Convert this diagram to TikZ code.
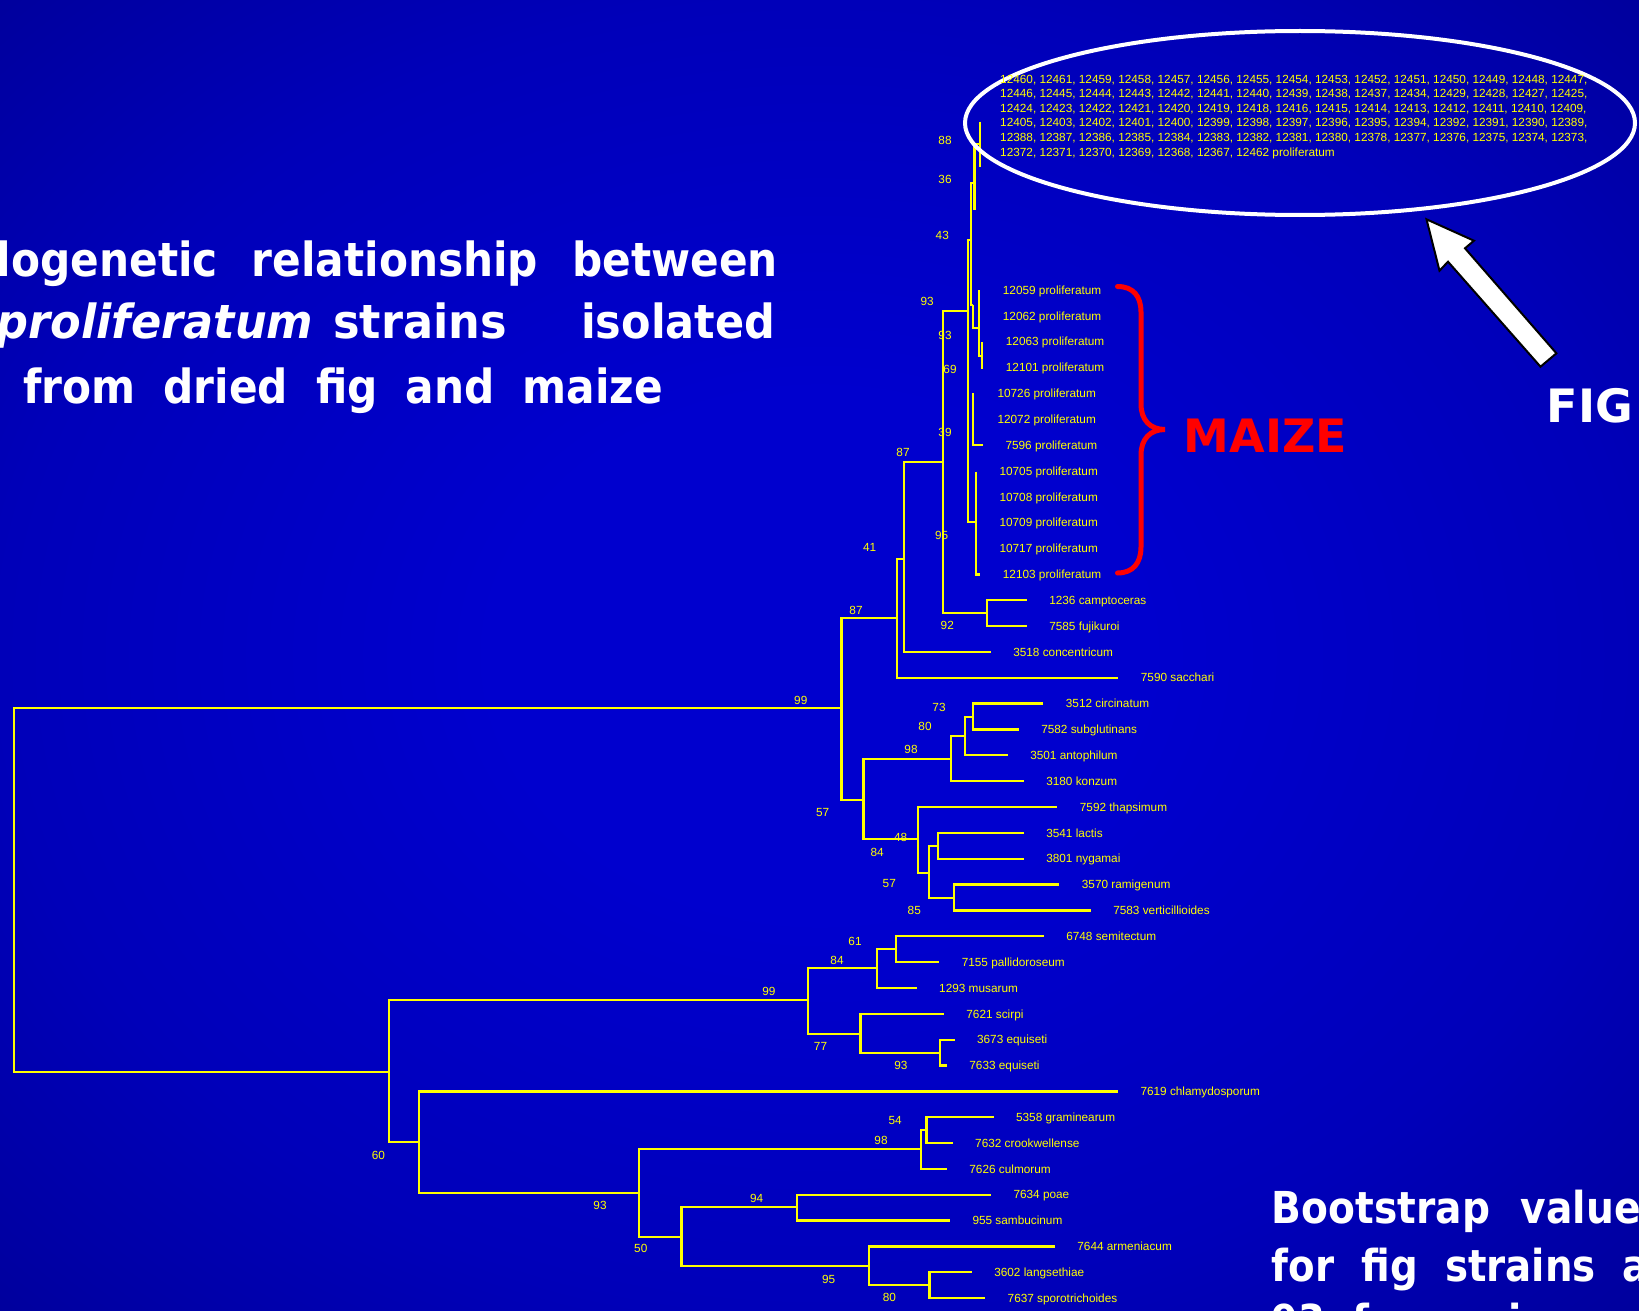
\documentclass[tikz,border=0pt]{standalone}
\usepackage{fontspec}
\setmainfont{Liberation Sans}
\newfontfamily\headfont{DejaVu Sans}
\definecolor{treeyellow}{RGB}{255,255,0}
\definecolor{bgin}{RGB}{0,0,206}
\definecolor{bgmid}{RGB}{0,0,185}
\definecolor{bgedge}{RGB}{0,0,118}
\definecolor{bgcorner}{RGB}{0,0,96}
\definecolor{maizered}{RGB}{255,0,0}
\pgfdeclareradialshading{bgshade}{\pgfpoint{0bp}{0bp}}{color(0bp)=(bgin); color(10bp)=(bgin); color(25bp)=(bgmid); color(50bp)=(bgedge); color(71bp)=(bgcorner)}
\tikzset{
  br/.style={draw=treeyellow, line width=2.3pt},
  leaf/.style={text=treeyellow, font=\fontsize{11.8}{14}\selectfont, anchor=base west, inner sep=0pt},
  boot/.style={text=treeyellow, font=\fontsize{11.8}{14}\selectfont, inner sep=0pt},
  head/.style={text=white, font=\headfont\bfseries\fontsize{47}{56}\selectfont, inner sep=0pt},
  note/.style={text=white, font=\headfont\bfseries\fontsize{44}{52}\selectfont, inner sep=0pt, anchor=base west},
}
\begin{document}
\begin{tikzpicture}[x=1pt,y=-1pt]
\useasboundingbox (0,0) rectangle (1639,1311);
\clip (0,0) rectangle (1639,1311);
\shade[shading=bgshade] (0,0) rectangle (1639,1311);

% ---------- title text ----------
\node[head, anchor=base east] (t1) at (778,276)
  {\scalebox{0.9}[1]{\spaceskip=0.8em Phylogenetic relationship between}};
\node[head, anchor=base east] (t2) at (775.5,338.3)
  {\scalebox{0.95}[1]{\itshape F. proliferatum}\hspace{20pt}\scalebox{0.95}[1]{strains}\hspace{74pt}\scalebox{0.915}[1]{isolated}};
\node[head, anchor=base west] (t3) at (23,403.3)
  {\scalebox{0.9}[1]{\spaceskip=0.66em from dried fig and maize}};

% ---------- leaves: index / tip x / label ----------
\foreach \i/\tx/\txt in {
  0/980.3/12059 proliferatum, 1/980.3/12062 proliferatum, 2/983.3/12063 proliferatum,
  3/983.3/12101 proliferatum, 4/974.9/10726 proliferatum, 5/974.9/12072 proliferatum,
  6/982.9/7596 proliferatum, 7/976.9/10705 proliferatum, 8/976.9/10708 proliferatum,
  9/976.9/10709 proliferatum, 10/976.9/10717 proliferatum, 11/980.3/12103 proliferatum,
  12/1026.7/1236 camptoceras, 13/1026.7/7585 fujikuroi, 14/990.7/3518 concentricum,
  15/1118.3/7590 sacchari, 16/1043.3/3512 circinatum, 17/1018.7/7582 subglutinans,
  18/1007.7/3501 antophilum, 19/1023.7/3180 konzum, 20/1057.3/7592 thapsimum,
  21/1023.7/3541 lactis, 22/1023.7/3801 nygamai, 23/1059.3/3570 ramigenum,
  24/1090.7/7583 verticillioides, 25/1043.7/6748 semitectum, 26/939.2/7155 pallidoroseum,
  27/916.6/1293 musarum, 28/943.8/7621 scirpi, 29/954.5/3673 equiseti,
  30/946.8/7633 equiseti, 31/1117.9/7619 chlamydosporum, 32/993.5/5358 graminearum,
  33/952.6/7632 crookwellense, 34/946.8/7626 culmorum, 35/990.9/7634 poae,
  36/949.9/955 sambucinum, 37/1054.8/7644 armeniacum, 38/971.7/3602 langsethiae,
  39/985.1/7637 sporotrichoides}
{
  \coordinate (l\i) at (\tx,{290+25.85*\i});
  \node[leaf] (n\i) at ([xshift=22.4pt,yshift=-4.2pt]l\i) {\txt};
}

% ---------- internal nodes ----------
\coordinate (R) at (13.8,890.3);
\coordinate (A) at (841.6,708.3);
\coordinate (C) at (896.7,617.7);
\coordinate (E) at (904.3,559.2);
\coordinate (F) at (942.7,462.3);
\coordinate (G) at (967.7,310.7);
\coordinate (H) at (987.3,613.1);
\coordinate (D) at (863.4,800);
\coordinate (I) at (951,759);
\coordinate (K) at (965.3,735.7);
\coordinate (L) at (973.3,716.7);
\coordinate (J) at (917.7,839.3);
\coordinate (M) at (929.3,872.7);
\coordinate (O) at (937.7,846);
\coordinate (N) at (954,897.7);
\coordinate (B) at (389.2,1072.3);
\coordinate (P) at (808.3,1000.3);
\coordinate (S) at (877.2,968.3);
\coordinate (U) at (896.3,949.3);
\coordinate (T) at (860.4,1033.7);
\coordinate (V) at (940.3,1052.7);
\coordinate (Q) at (419.2,1142.2);
\coordinate (W) at (638.7,1192.7);
\coordinate (X) at (921.2,1149.3);
\coordinate (Z) at (926.6,1130);
\coordinate (Y) at (681.5,1237);
\coordinate (AA) at (796.8,1207.3);
\coordinate (AB) at (868.8,1266);
\coordinate (AC) at (929.6,1285);

% proliferatum / fig cluster nodes
\coordinate (G2) at (970.7,240);
\coordinate (G3) at (974.5,182.7);
\coordinate (G3b) at (974.5,210);
\coordinate (G4) at (973.3,305);
\coordinate (FG) at (980,144.3);
\coordinate (FGt) at (980,121.7);
\coordinate (FGb) at (980,166.7);
\coordinate (PA) at (979.3,328.3);
\coordinate (PAt) at (979.3,290);
\coordinate (PAb) at (979.3,355.7);
\coordinate (PAc) at (981.7,342);
\coordinate (PAd) at (981.7,369);
\coordinate (PB) at (973.3,393.4);
\coordinate (PC) at (976,522.3);
\coordinate (PCt) at (976,471.7);

% ---------- branches ----------
\draw[br] (R) |- (A);  \draw[br] (R) |- (B);
\draw[br] (A) |- (C);  \draw[br] (A) |- (D);
\draw[br] (C) |- (E);  \draw[br] (C) |- (l15);
\draw[br] (E) |- (F);  \draw[br] (E) |- (l14);
\draw[br] (F) |- (G);  \draw[br] (F) |- (H);
\draw[br] (H) |- (l12); \draw[br] (H) |- (l13);
\draw[br] (D) |- (I);  \draw[br] (D) |- (J);
\draw[br] (I) |- (K);  \draw[br] (I) |- (l19);
\draw[br] (K) |- (L);  \draw[br] (K) |- (l18);
\draw[br] (L) |- (l16); \draw[br] (L) |- (l17);
\draw[br] (J) |- (l20); \draw[br] (J) |- (M);
\draw[br] (M) |- (O);  \draw[br] (M) |- (N);
\draw[br] (O) |- (l21); \draw[br] (O) |- (l22);
\draw[br] (N) |- (l23); \draw[br] (N) |- (l24);
\draw[br] (B) |- (P);  \draw[br] (B) |- (Q);
\draw[br] (P) |- (S);  \draw[br] (P) |- (T);
\draw[br] (S) |- (U);  \draw[br] (S) |- (l27);
\draw[br] (U) |- (l25); \draw[br] (U) |- (l26);
\draw[br] (T) |- (l28); \draw[br] (T) |- (V);
\draw[br] (V) |- (l29); \draw[br] (V) |- (l30);
\draw[br] (Q) |- (l31); \draw[br] (Q) |- (W);
\draw[br] (W) |- (X);  \draw[br] (W) |- (Y);
\draw[br] (X) |- (Z);  \draw[br] (X) |- (l34);
\draw[br] (Z) |- (l32); \draw[br] (Z) |- (l33);
\draw[br] (Y) |- (AA); \draw[br] (Y) |- (AB);
\draw[br] (AA) |- (l35); \draw[br] (AA) |- (l36);
\draw[br] (AB) |- (l37); \draw[br] (AB) |- (AC);
\draw[br] (AC) |- (l38); \draw[br] (AC) |- (l39);

% short branches inside the proliferatum / fig group
\draw[br] (G) |- (G2); \draw[br] (G) |- (PC);
\draw[br] (G2) |- (G3); \draw[br] (G2) |- (G4);
\draw[br] (G3) |- (FG); \draw[br] (G3) -- (G3b);
\draw[br] (FGt) -- (FGb);
\draw[br] (G4) |- (PA);
\draw[br] (PAt) -- (PAb) -| (PAc) -- (PAd);
\draw[br] (PB) |- (l6);
\draw[br] (PCt) |- (l11);

% ---------- bootstrap values ----------
\foreach \bx/\by/\bv in {
  945/140.7/88, 945/179/36, 942.3/235.7/43, 927.2/301/93, 945/335.3/93,
  950/369/69, 945/432.7/39, 941.7/535.7/95, 903/452.6/87, 869.7/547.7/41,
  856/610/87, 800.8/700/99, 947.3/625.7/92, 939/707.7/73, 925/726.7/80,
  911/749.7/98, 822.6/812.7/57, 900.7/837.7/48, 877.2/852.7/84, 889.3/883.3/57,
  914.3/910/85, 855/941/61, 837/960/84, 768.9/991.7/99, 820.5/1046/77,
  900.9/1065/93, 378.4/1155/60, 895.2/1120.7/54, 881/1140.7/98, 600/1205/93,
  756.6/1198.7/94, 640.8/1248/50, 828.6/1279/95, 889.4/1297/80}
{
  \node[boot] at (\bx,\by) {\bv};
}

% ---------- fig strains ----------
\draw[white, line width=4pt] (1300,123) ellipse [x radius=335, y radius=92];
\node[leaf, align=left, font=\fontsize{11.8}{14.6}\selectfont] (figlist) at (1000,156.2) {%
12460, 12461, 12459, 12458, 12457, 12456, 12455, 12454, 12453, 12452, 12451, 12450, 12449, 12448, 12447,\\
12446, 12445, 12444, 12443, 12442, 12441, 12440, 12439, 12438, 12437, 12434, 12429, 12428, 12427, 12425,\\
12424, 12423, 12422, 12421, 12420, 12419, 12418, 12416, 12415, 12414, 12413, 12412, 12411, 12410, 12409,\\
12405, 12403, 12402, 12401, 12400, 12399, 12398, 12397, 12396, 12395, 12394, 12392, 12391, 12390, 12389,\\
12388, 12387, 12386, 12385, 12384, 12383, 12382, 12381, 12380, 12378, 12377, 12376, 12375, 12374, 12373,\\
12372, 12371, 12370, 12369, 12368, 12367, 12462 proliferatum};

% block arrow pointing at the fig group
\coordinate (ar1) at (1426.5,219.3);
\coordinate (ar2) at (1473.9,240.7);
\coordinate (ar3) at (1465,248.3);
\coordinate (ar4) at (1556.4,353.3);
\coordinate (ar5) at (1540.5,366.7);
\coordinate (ar6) at (1448,261.7);
\coordinate (ar7) at (1439.5,270.7);
\draw[black, fill=white, line width=2pt, line join=miter] (ar1) -- (ar2) -- (ar3) -- (ar4) -- (ar5) -- (ar6) -- (ar7) -- cycle;
\node[head, font=\headfont\bfseries\fontsize{46}{56}\selectfont, anchor=base west] (fig) at (1546.7,422.7) {FIG};

% ---------- maize brace ----------
\coordinate (bt) at (1117.5,286.5);
\coordinate (bm) at (1165,429.5);
\coordinate (bb) at (1117.5,573);
\draw[maizered, line width=5pt, line cap=round]
  (bt) .. controls (1133,286.5) and (1141,296) .. (1141,312)
  -- (1141,404) .. controls (1141,420) and (1150,429.5) .. (bm)
  .. controls (1150,429.5) and (1141,439) .. (1141,455)
  -- (1141,547) .. controls (1141,563) and (1133,573) .. (bb);
\node[head, text=maizered, font=\headfont\bfseries\fontsize{46}{56}\selectfont, anchor=base west] (maize) at (1183.5,452.3) {MAIZE};

% ---------- bootstrap note ----------
\node[note] (bs1) at (1271.7,1223.3) {\scalebox{0.89}[1]{\spaceskip=0.79em Bootstrap values}};
\node[note] (bs2) at (1271.7,1281.7) {\scalebox{0.88}[1]{\spaceskip=0.7em for fig strains and}};
\node[note] (bs3) at (1271.7,1336) {\scalebox{0.88}[1]{\spaceskip=0.7em 93 for maize}};
\end{tikzpicture}
\end{document}
